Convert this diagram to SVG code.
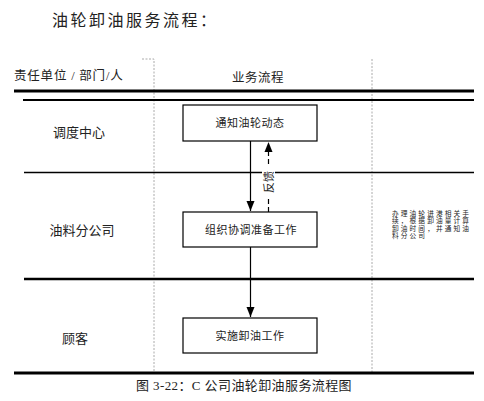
<svg xmlns="http://www.w3.org/2000/svg" width="484" height="401" viewBox="0 0 484 401">
<style>
  .cjk { font-family: "Liberation Serif", "Noto Sans CJK SC", serif; fill: #222; }
  .lane { font-size: 13px; text-anchor: middle; }
  .box rect { fill: #fff; stroke: #000; stroke-width: 1.2; }
  .box text { font-size: 11px; text-anchor: middle; letter-spacing: 0.5px; }
  .dot { stroke: #aaa; stroke-width: 1; stroke-dasharray: 2 1.5; fill: none; }
  .conn { stroke: #000; stroke-width: 1.2; fill: none; }
</style>
<rect width="484" height="401" fill="#fff"/>
<text class="cjk" x="52" y="26" font-size="16" letter-spacing="2.5">油轮卸油服务流程：</text>

<g id="grid">
  <path class="dot" d="M142,59 H154 V372"/>
  <path class="dot" d="M372,59 V372"/>
  <line x1="14" y1="91" x2="474" y2="91" stroke="#000" stroke-width="3"/>
  <line x1="23" y1="100" x2="474" y2="100" stroke="#000" stroke-width="2"/>
  <line x1="24" y1="172.5" x2="474" y2="172.5" stroke="#000" stroke-width="1.5"/>
  <line x1="24" y1="279" x2="474" y2="279" stroke="#000" stroke-width="2.5"/>
  <line x1="14" y1="373" x2="474" y2="373" stroke="#000" stroke-width="3"/>
</g>

<g id="headers">
  <text class="cjk" x="14" y="80" font-size="12.5" letter-spacing="0.8">责任单位 / 部门/人</text>
  <text class="cjk" x="258" y="82" font-size="12.5" text-anchor="middle" letter-spacing="0.5">业务流程</text>
</g>

<g id="lanes">
  <text class="cjk lane" x="79" y="137">调度中心</text>
  <text class="cjk lane" x="82" y="235">油料分公司</text>
  <text class="cjk lane" x="75" y="343">顾客</text>
</g>

<g id="connectors">
  <line class="conn" x1="250.5" y1="141" x2="250.5" y2="211"/>
  <path d="M246.5,201 L254.5,201 L250.5,211 Z" fill="#000"/>
  <line class="conn" x1="250.5" y1="247" x2="250.5" y2="317"/>
  <path d="M246.5,307 L254.5,307 L250.5,317 Z" fill="#000"/>
  <line class="conn" x1="268.5" y1="212" x2="268.5" y2="151" stroke-dasharray="5 3"/>
  <path d="M264.5,152 L272.5,152 L268.5,142 Z" fill="#000"/>
  <rect x="262" y="167" width="13" height="30" fill="#fff"/>
  <text class="cjk" transform="translate(272.5,182) rotate(-90)" font-size="11" text-anchor="middle">反馈</text>
</g>

<g id="n1" class="box">
  <rect x="183" y="105" width="134" height="36"/>
  <text class="cjk" x="250" y="127">通知油轮动态</text>
</g>
<g id="n2" class="box">
  <rect x="183" y="212" width="134" height="35"/>
  <text class="cjk" x="251" y="234">组织协调准备工作</text>
</g>
<g id="n3" class="box">
  <rect x="183" y="318" width="134" height="35"/>
  <text class="cjk" x="250" y="340">实施卸油工作</text>
</g>

<g id="note" transform="translate(392,215.5) scale(0.5)">
  <text class="cjk" font-size="13.4" letter-spacing="4.2">
    <tspan x="0" y="0">办理油轮进港相关手</tspan>
    <tspan x="0" y="15">续，根据卸油量计算</tspan>
    <tspan x="0" y="30">卸油时间，并通知油</tspan>
    <tspan x="0" y="45">料分公司</tspan>
  </text>
</g>

<text class="cjk" x="244" y="390" font-size="13" text-anchor="middle" letter-spacing="0.4">图 3-22：C 公司油轮卸油服务流程图</text>
</svg>
